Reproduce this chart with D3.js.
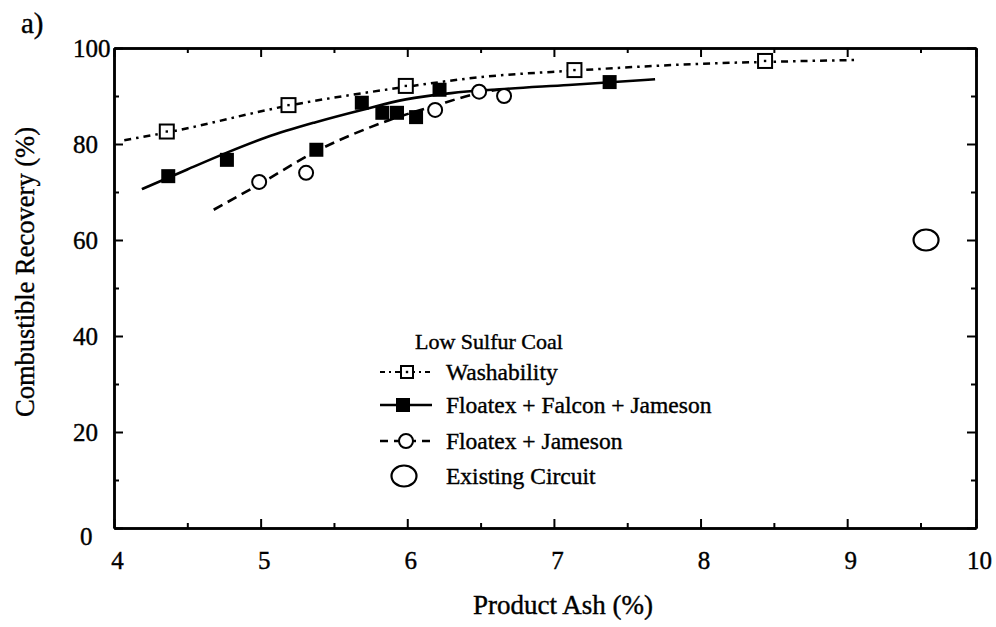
<!DOCTYPE html>
<html>
<head>
<meta charset="utf-8">
<script src="https://cdn.jsdelivr.net/npm/d3@7"></script>
<style>
  html, body { margin: 0; padding: 0; background: #fff; }
  svg { display: block; }
  text { font-family: "Liberation Serif", "Times New Roman", "DejaVu Serif", serif; fill: #000; stroke: #000; stroke-width: 0.4px; }
</style>
</head>
<body>
<svg id="chart" width="996" height="627"></svg>
<script>
// ---------------- data ----------------
const xMajorTicks = [4, 5, 6, 7, 8, 9, 10];
const xMinorTicks = [4.5, 5.5, 6.5, 7.5, 8.5, 9.5];
const yMajorTicks = [0, 20, 40, 60, 80, 100];
const yMinorTicks = [10, 30, 50, 70, 90];

// Washability (open squares) + dash-dot fitted curve
const washPoints = [[4.36, 82.6], [5.19, 88.1], [5.99, 92.1], [7.14, 95.4], [8.44, 97.3]];
const washCurve = [[4.07, 80.8], [4.36, 82.4], [5.19, 88.0], [5.99, 91.9], [6.49, 93.9], [7.14, 95.3], [8.08, 96.8], [8.44, 97.1], [9.07, 97.5]];

// Floatex + Falcon + Jameson (filled squares) + solid fitted curve
const ffjPoints = [[4.37, 73.3], [4.77, 76.7], [5.38, 78.8], [5.69, 88.6], [5.83, 86.5], [5.93, 86.5], [6.06, 85.6], [6.22, 91.3], [7.38, 92.9]];
const ffjCurve = [[4.19, 70.6], [4.5, 74.7], [4.77, 78.2], [5.04, 81.4], [5.37, 84.5], [5.69, 87.1], [5.99, 89.3], [6.3, 90.6], [6.63, 91.4], [7.1, 92.3], [7.69, 93.5]];

// Floatex + Jameson (open circles) + dashed fitted curve
const fjPoints = [[4.99, 72.1], [5.31, 74.0], [6.19, 87.1], [6.49, 90.9], [6.66, 90.0]];
const fjCurve = [[4.68, 66.3], [4.99, 71.6], [5.38, 78.5], [5.88, 85.0], [6.19, 88.0], [6.49, 90.6], [6.64, 91.4]];

// Existing circuit (large open circle)
const existingPoints = [[9.55, 60.0]];

const legendTitle = "Low Sulfur Coal";
const legendLabels = ["Washability", "Floatex + Falcon + Jameson", "Floatex + Jameson", "Existing Circuit"];

// ---------------- drawing ----------------
const svg = d3.select("#chart");

const x = d3.scaleLinear().domain([4, 9.5, 10]).range([114, 920.5, 976]);
const y = d3.scaleLinear().domain([0, 100]).range([528, 48]);

const axisFont = 25;

// bottom axis (major with labels)
const gB = svg.append("g").attr("transform", `translate(0,${y(0)})`)
  .call(d3.axisBottom(x).tickValues(xMajorTicks).tickSizeInner(-9).tickSizeOuter(0).tickPadding(23).tickFormat(d3.format("d")));
gB.selectAll("text").attr("font-size", axisFont).attr("dx", 3);
svg.append("g").attr("transform", `translate(0,${y(0)})`)
  .call(d3.axisBottom(x).tickValues(xMinorTicks).tickSizeInner(-5).tickSizeOuter(0).tickFormat(""));

// top axis
svg.append("g").attr("transform", `translate(0,${y(100)})`)
  .call(d3.axisTop(x).tickValues(xMajorTicks).tickSizeInner(-9).tickSizeOuter(0).tickFormat(""));
svg.append("g").attr("transform", `translate(0,${y(100)})`)
  .call(d3.axisTop(x).tickValues(xMinorTicks).tickSizeInner(-5).tickSizeOuter(0).tickFormat(""));

// left axis
const gL = svg.append("g").attr("transform", `translate(${x(4)},0)`)
  .call(d3.axisLeft(y).tickValues(yMajorTicks).tickSizeInner(-9).tickSizeOuter(0).tickFormat(d3.format("d")));
gL.selectAll("text")
  .attr("font-size", axisFont)
  .attr("text-anchor", "start")
  .attr("x", d => d === 0 ? -34 : -41)
  .attr("dy", d => d === 0 ? "0.66em" : "0.34em");
svg.append("g").attr("transform", `translate(${x(4)},0)`)
  .call(d3.axisLeft(y).tickValues(yMinorTicks).tickSizeInner(-5).tickSizeOuter(0).tickFormat(""));

// right axis
svg.append("g").attr("transform", `translate(${x(10)},0)`)
  .call(d3.axisRight(y).tickValues(yMajorTicks).tickSizeInner(-9).tickSizeOuter(0).tickFormat(""));
svg.append("g").attr("transform", `translate(${x(10)},0)`)
  .call(d3.axisRight(y).tickValues(yMinorTicks).tickSizeInner(-5).tickSizeOuter(0).tickFormat(""));

svg.selectAll(".domain").attr("stroke", "#000").attr("stroke-width", 2.5);
svg.selectAll(".tick line").attr("stroke", "#000").attr("stroke-width", 2);

// axis titles
svg.append("text").attr("x", 563).attr("y", 614).attr("text-anchor", "middle")
  .attr("font-size", 27).text("Product Ash (%)");
svg.append("text").attr("transform", "translate(34,272) rotate(-90)").attr("text-anchor", "middle")
  .attr("font-size", 26.5).text("Combustible Recovery (%)");
svg.append("text").attr("x", 21).attr("y", 33).attr("font-size", 29).text("a)");

// curves
const line = d3.line().x(d => x(d[0])).y(d => y(d[1])).curve(d3.curveMonotoneX);
svg.append("path").datum(washCurve).attr("d", line).attr("fill", "none")
  .attr("stroke", "#000").attr("stroke-width", 2.5).attr("stroke-dasharray", "7,5,2.5,5");
svg.append("path").datum(ffjCurve).attr("d", line).attr("fill", "none")
  .attr("stroke", "#000").attr("stroke-width", 2.6);
svg.append("path").datum(fjCurve).attr("d", line).attr("fill", "none")
  .attr("stroke", "#000").attr("stroke-width", 2.6).attr("stroke-dasharray", "10,6");

// markers
const sq = 14;
function openSquare(g, cx, cy, s) {
  g.append("rect").attr("x", cx - s / 2).attr("y", cy - s / 2).attr("width", s).attr("height", s)
    .attr("fill", "#fff").attr("stroke", "#000").attr("stroke-width", 2);
  g.append("rect").attr("x", cx - 1.2).attr("y", cy - 1.2).attr("width", 2.4).attr("height", 2.4).attr("fill", "#000");
}
const gWash = svg.append("g");
washPoints.forEach(d => openSquare(gWash, x(d[0]), y(d[1]), sq));

svg.append("g").selectAll("rect").data(ffjPoints).join("rect")
  .attr("x", d => x(d[0]) - 7).attr("y", d => y(d[1]) - 7)
  .attr("width", 14).attr("height", 14).attr("fill", "#000");

svg.append("g").selectAll("circle").data(fjPoints).join("circle")
  .attr("cx", d => x(d[0])).attr("cy", d => y(d[1])).attr("r", 7)
  .attr("fill", "#fff").attr("stroke", "#000").attr("stroke-width", 2);

svg.append("g").selectAll("ellipse").data(existingPoints).join("ellipse")
  .attr("cx", d => x(d[0])).attr("cy", d => y(d[1])).attr("rx", 12.5).attr("ry", 10.5)
  .attr("fill", "none").attr("stroke", "#000").attr("stroke-width", 2.2);

// legend
const lg = svg.append("g");
lg.append("text").attr("x", 415).attr("y", 349).attr("font-size", 22).text(legendTitle);
const rowY = [372, 405, 441, 476];
const textX = 446;
const lfs = 23.5;
// row 1 washability
lg.append("path").attr("d", `M380,${rowY[0]}H432`).attr("stroke", "#000").attr("stroke-width", 2.2)
  .attr("stroke-dasharray", "5,4,2,4");
openSquare(lg, 407, rowY[0], 12);
// row 2 ffj
lg.append("path").attr("d", `M380,${rowY[1]}H432`).attr("stroke", "#000").attr("stroke-width", 2.4);
lg.append("rect").attr("x", 396).attr("y", rowY[1] - 7).attr("width", 14).attr("height", 14).attr("fill", "#000");
// row 3 fj
lg.append("path").attr("d", `M380,${rowY[2]}H432`).attr("stroke", "#000").attr("stroke-width", 2.4)
  .attr("stroke-dasharray", "8,6");
lg.append("circle").attr("cx", 406).attr("cy", rowY[2]).attr("r", 7).attr("fill", "#fff")
  .attr("stroke", "#000").attr("stroke-width", 2);
// row 4 existing
lg.append("ellipse").attr("cx", 404).attr("cy", rowY[3]).attr("rx", 12.5).attr("ry", 10.5)
  .attr("fill", "none").attr("stroke", "#000").attr("stroke-width", 2.2);
legendLabels.forEach((t, i) => {
  lg.append("text").attr("x", textX).attr("y", rowY[i]).attr("dy", "0.34em").attr("font-size", lfs).text(t);
});
</script>
</body>
</html>
